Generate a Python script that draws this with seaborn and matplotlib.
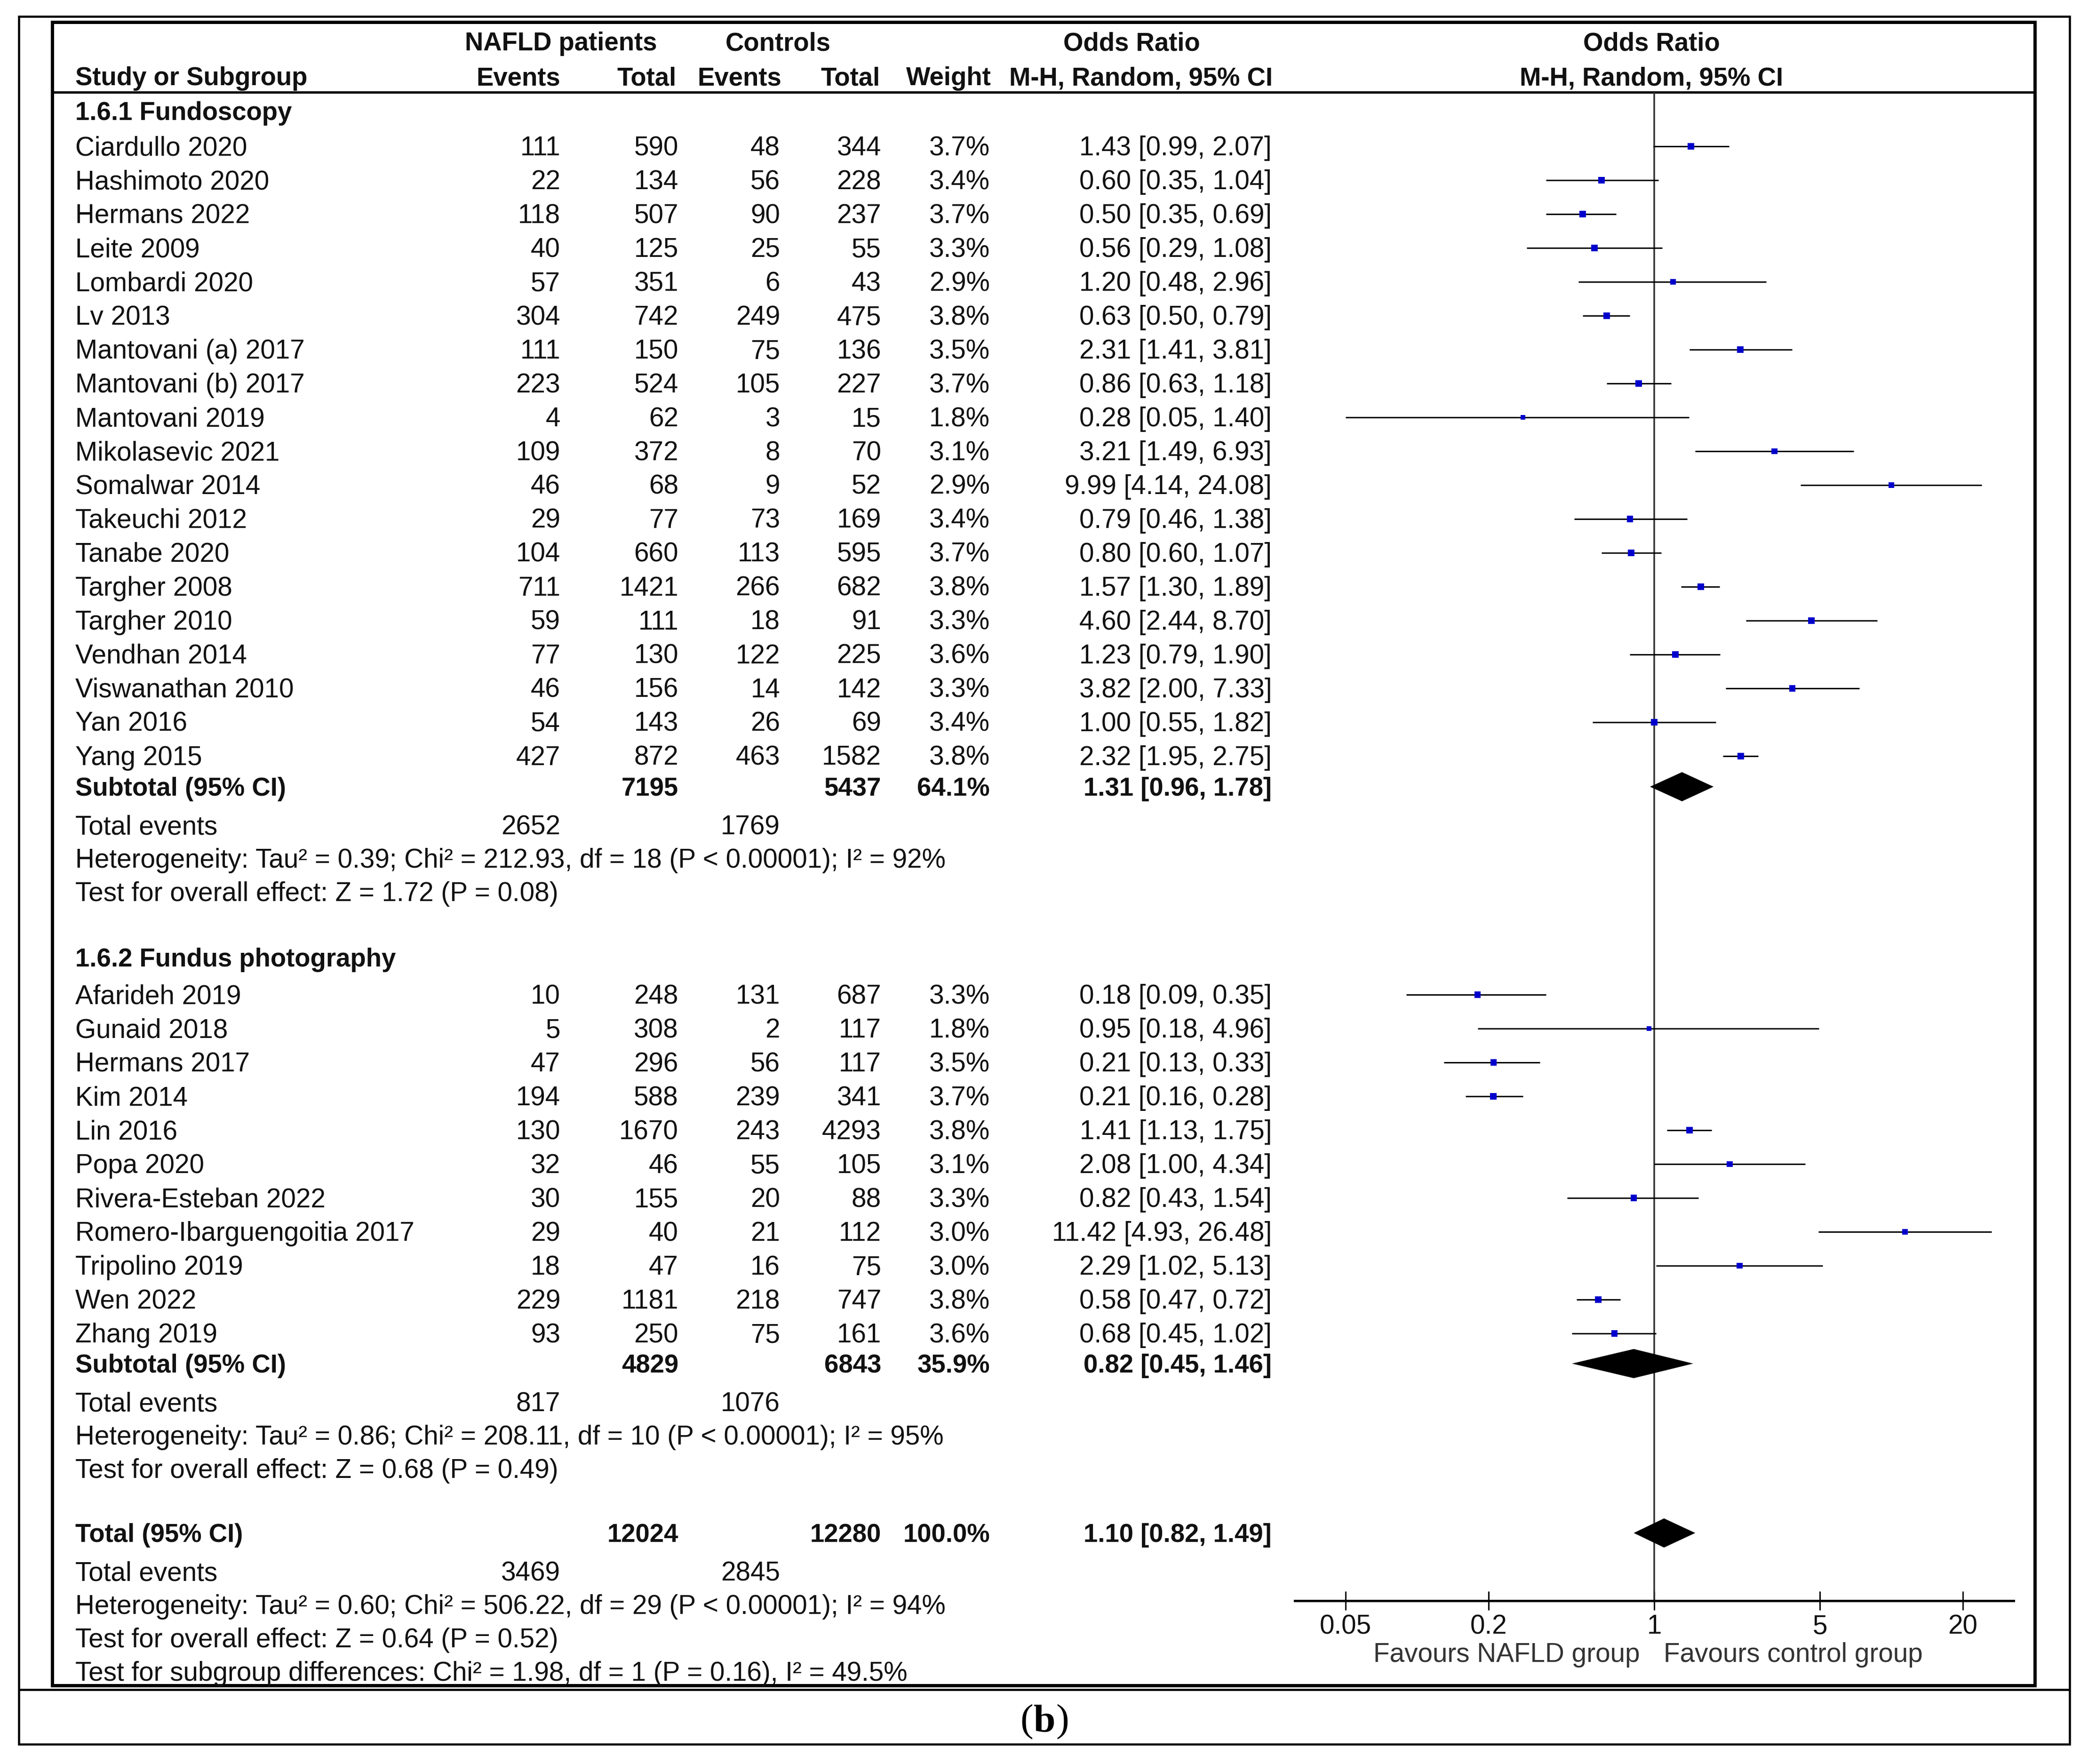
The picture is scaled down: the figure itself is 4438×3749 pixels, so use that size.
import numpy as np
import pandas as pd
import matplotlib.pyplot as plt
from matplotlib.patches import Rectangle
from matplotlib.ticker import NullLocator
import seaborn as sns

# 1.6.1 Fundoscopy
names1 = ["Ciardullo 2020", "Hashimoto 2020", "Hermans 2022", "Leite 2009", "Lombardi 2020",
          "Lv 2013", "Mantovani (a) 2017", "Mantovani (b) 2017", "Mantovani 2019",
          "Mikolasevic 2021", "Somalwar 2014", "Takeuchi 2012", "Tanabe 2020", "Targher 2008",
          "Targher 2010", "Vendhan 2014", "Viswanathan 2010", "Yan 2016", "Yang 2015"]
ev1 = [111, 22, 118, 40, 57, 304, 111, 223, 4, 109, 46, 29, 104, 711, 59, 77, 46, 54, 427]
tot1 = [590, 134, 507, 125, 351, 742, 150, 524, 62, 372, 68, 77, 660, 1421, 111, 130, 156, 143, 872]
cev1 = [48, 56, 90, 25, 6, 249, 75, 105, 3, 8, 9, 73, 113, 266, 18, 122, 14, 26, 463]
ctot1 = [344, 228, 237, 55, 43, 475, 136, 227, 15, 70, 52, 169, 595, 682, 91, 225, 142, 69, 1582]
w1 = [3.7, 3.4, 3.7, 3.3, 2.9, 3.8, 3.5, 3.7, 1.8, 3.1, 2.9, 3.4, 3.7, 3.8, 3.3, 3.6, 3.3, 3.4, 3.8]
or1 = [1.43, 0.60, 0.50, 0.56, 1.20, 0.63, 2.31, 0.86, 0.28, 3.21, 9.99, 0.79, 0.80, 1.57, 4.60, 1.23, 3.82, 1.00, 2.32]
lo1 = [0.99, 0.35, 0.35, 0.29, 0.48, 0.50, 1.41, 0.63, 0.05, 1.49, 4.14, 0.46, 0.60, 1.30, 2.44, 0.79, 2.00, 0.55, 1.95]
hi1 = [2.07, 1.04, 0.69, 1.08, 2.96, 0.79, 3.81, 1.18, 1.40, 6.93, 24.08, 1.38, 1.07, 1.89, 8.70, 1.90, 7.33, 1.82, 2.75]

# 1.6.2 Fundus photography
names2 = ["Afarideh 2019", "Gunaid 2018", "Hermans 2017", "Kim 2014", "Lin 2016", "Popa 2020",
          "Rivera-Esteban 2022", "Romero-Ibarguengoitia 2017", "Tripolino 2019", "Wen 2022", "Zhang 2019"]
ev2 = [10, 5, 47, 194, 130, 32, 30, 29, 18, 229, 93]
tot2 = [248, 308, 296, 588, 1670, 46, 155, 40, 47, 1181, 250]
cev2 = [131, 2, 56, 239, 243, 55, 20, 21, 16, 218, 75]
ctot2 = [687, 117, 117, 341, 4293, 105, 88, 112, 75, 747, 161]
w2 = [3.3, 1.8, 3.5, 3.7, 3.8, 3.1, 3.3, 3.0, 3.0, 3.8, 3.6]
or2 = [0.18, 0.95, 0.21, 0.21, 1.41, 2.08, 0.82, 11.42, 2.29, 0.58, 0.68]
lo2 = [0.09, 0.18, 0.13, 0.16, 1.13, 1.00, 0.43, 4.93, 1.02, 0.47, 0.45]
hi2 = [0.35, 4.96, 0.33, 0.28, 1.75, 4.34, 1.54, 26.48, 5.13, 0.72, 1.02]

# pooled results: total, control total, weight, OR, lower, upper, events, control events
sub1 = [7195, 5437, 64.1, 1.31, 0.96, 1.78, 2652, 1769]
sub2 = [4829, 6843, 35.9, 0.82, 0.45, 1.46, 817, 1076]
overall = [12024, 12280, 100.0, 1.10, 0.82, 1.49, 3469, 2845]
het1 = "Heterogeneity: Tau² = 0.39; Chi² = 212.93, df = 18 (P < 0.00001); I² = 92%"
z1 = "Test for overall effect: Z = 1.72 (P = 0.08)"
het2 = "Heterogeneity: Tau² = 0.86; Chi² = 208.11, df = 10 (P < 0.00001); I² = 95%"
z2 = "Test for overall effect: Z = 0.68 (P = 0.49)"
het_t = "Heterogeneity: Tau² = 0.60; Chi² = 506.22, df = 29 (P < 0.00001); I² = 94%"
z_t = "Test for overall effect: Z = 0.64 (P = 0.52)"
sg_t = "Test for subgroup differences: Chi² = 1.98, df = 1 (P = 0.16), I² = 49.5%"

tick_vals = [0.05, 0.2, 1, 5, 20]
tick_labels = ["0.05", "0.2", "1", "5", "20"]

sns.set_theme(style="white")
plt.rcParams['font.family'] = ['Liberation Sans', 'DejaVu Sans']

W, H = 4438, 3749
DPI = 300
PX = 72 / DPI
FS = 13.6      # regular text
FSB = 13.1     # bold text
INK = '#111111'

fig = plt.figure(figsize=(W / DPI, H / DPI), dpi=DPI)
ax = fig.add_axes([0, 0, 1, 1])
ax.set_xlim(0, W)
ax.set_ylim(H, 0)
ax.axis('off')


def put(x, y, s, ha='right', bold=False, color=INK):
    ax.text(x, y + 19, s, ha=ha, va='baseline', fontsize=FSB if bold else FS, color=color,
            fontweight='bold' if bold else 'normal')


# column anchors
X_NAME, X_EV1, X_TOT1, X_EV2, X_TOT2, X_W, X_OR = 160, 1191, 1442, 1658, 1873, 2104, 2703

# row layout
y_study1 = 311 + 72 * np.arange(len(names1))
y_sub1 = y_study1[-1] + 65
y_ev1 = y_sub1 + 82
y_het1 = y_ev1 + 71
y_z1 = y_het1 + 71
y_grp2 = y_z1 + 139
y_study2 = y_grp2 + 79 + 72 * np.arange(len(names2))
y_sub2 = y_study2[-1] + 64
y_ev2 = y_sub2 + 82
y_het2 = y_ev2 + 71
y_z2 = y_het2 + 71
y_tot = y_z2 + 136
y_evt = y_tot + 82
y_hett = y_evt + 71
y_zt = y_hett + 71
y_sg = y_zt + 71

# frames
ax.add_patch(Rectangle((40, 35), 4359, 3672, fill=False, lw=4.5 * PX, ec='black'))
ax.add_patch(Rectangle((111, 47), 4214, 3535, fill=False, lw=7 * PX, ec='black'))
ax.hlines(3591, 40, 4399, color='black', lw=4.5 * PX)
ax.hlines(196, 111, 4325, color='black', lw=5 * PX)

# header
put(1192, 88, "NAFLD patients", ha='center', bold=True)
put(1654, 88, "Controls", ha='center', bold=True)
put(2405, 88, "Odds Ratio", ha='center', bold=True)
put(3510, 88, "Odds Ratio", ha='center', bold=True)
put(X_NAME, 162, "Study or Subgroup", ha='left', bold=True)
put(X_EV1, 162, "Events", bold=True)
put(1438, 162, "Total", bold=True)
put(1661, 162, "Events", bold=True)
put(1871, 162, "Total", bold=True)
put(2107, 162, "Weight", bold=True)
put(2705, 162, "M-H, Random, 95% CI", bold=True)
put(3510, 162, "M-H, Random, 95% CI", ha='center', bold=True)


def study_rows(names, ev, tot, cev, ctot, w, o, lo, hi, ys):
    for i, y in enumerate(ys):
        put(X_NAME, y, names[i], ha='left')
        put(X_EV1, y, str(ev[i]))
        put(X_TOT1, y, str(tot[i]))
        put(X_EV2, y, str(cev[i]))
        put(X_TOT2, y, str(ctot[i]))
        put(X_W, y, f"{w[i]:.1f}%")
        put(X_OR, y, f"{o[i]:.2f} [{lo[i]:.2f}, {hi[i]:.2f}]")


def pooled_rows(label, res, y_s, y_e, texts):
    put(X_NAME, y_s, label, ha='left', bold=True)
    put(X_TOT1, y_s, str(res[0]), bold=True)
    put(X_TOT2, y_s, str(res[1]), bold=True)
    put(X_W, y_s, f"{res[2]:.1f}%", bold=True)
    put(X_OR, y_s, f"{res[3]:.2f} [{res[4]:.2f}, {res[5]:.2f}]", bold=True)
    put(X_NAME, y_e, "Total events", ha='left')
    put(X_EV1, y_e, str(res[6]))
    put(X_EV2, y_e, str(res[7]))
    for y, s in texts:
        put(X_NAME, y, s, ha='left')


put(X_NAME, 236, "1.6.1 Fundoscopy", ha='left', bold=True)
study_rows(names1, ev1, tot1, cev1, ctot1, w1, or1, lo1, hi1, y_study1)
pooled_rows("Subtotal (95% CI)", sub1, y_sub1, y_ev1, [(y_het1, het1), (y_z1, z1)])

put(X_NAME, y_grp2, "1.6.2 Fundus photography", ha='left', bold=True)
study_rows(names2, ev2, tot2, cev2, ctot2, w2, or2, lo2, hi2, y_study2)
pooled_rows("Subtotal (95% CI)", sub2, y_sub2, y_ev2, [(y_het2, het2), (y_z2, z2)])

pooled_rows("Total (95% CI)", overall, y_tot, y_evt,
            [(y_hett, het_t), (y_zt, z_t), (y_sg, sg_t)])

# caption
ax.text(2196, 3660, "(", ha='right', va='center', fontsize=20, family='Liberation Serif', color='black')
ax.text(2220, 3660, "b", ha='center', va='center', fontsize=20, family='Liberation Serif',
        fontweight='bold', color='black')
ax.text(2244, 3660, ")", ha='left', va='center', fontsize=20, family='Liberation Serif', color='black')

# forest plot
df = pd.DataFrame({
    "study": names1 + names2,
    "or": or1 + or2,
    "lo": lo1 + lo2,
    "hi": hi1 + hi2,
    "weight": w1 + w2,
    "y": np.concatenate([y_study1, y_study2]),
})

x0, x1 = 2752, 4280
AXIS_Y = 3402
fx = fig.add_axes([x0 / W, 0, (x1 - x0) / W, 1])
fx.patch.set_alpha(0)
fx.set_xscale('log')
fx.set_xlim(0.0305, 32.8)
fx.set_ylim(H, 0)

fx.vlines(1, 196, AXIS_Y, color='#333333', lw=3.5 * PX, zorder=1)
fx.hlines(df["y"], df["lo"], df["hi"], color='black', lw=3 * PX, zorder=2)
sns.scatterplot(data=df, x="or", y="y", size="weight", sizes=(5.5, 11.6), size_norm=(1.8, 3.8),
                marker='s', color='#0000CC', edgecolor='none', linewidth=0, legend=False,
                ax=fx, zorder=3)

for res, y in [(sub1, y_sub1), (sub2, y_sub2), (overall, y_tot)]:
    est, lo, hi = res[3], res[4], res[5]
    fx.fill([lo, est, hi, est], [y, y - 31, y, y + 31], color='black', lw=0, zorder=3)

for s in ['top', 'left', 'right']:
    fx.spines[s].set_visible(False)
fx.spines['bottom'].set_position(('data', AXIS_Y))
fx.spines['bottom'].set_linewidth(5 * PX)
fx.spines['bottom'].set_color('black')
fx.set_xticks(tick_vals)
fx.set_xticklabels(tick_labels)
fx.xaxis.set_minor_locator(NullLocator())
fx.tick_params(axis='x', which='major', bottom=True, direction='inout', length=40 * PX,
               width=3 * PX, color='black', pad=2, labelsize=FS, labelcolor=INK)
fx.set_yticks([])
fx.set_xlabel("")
fx.set_ylabel("")

fx.text(0.872, 3513 + 19, "Favours NAFLD group", ha='right', va='baseline', fontsize=FS, color='#333333')
fx.text(1.095, 3513 + 19, "Favours control group", ha='left', va='baseline', fontsize=FS, color='#333333')

fig.savefig("out.png", dpi=DPI, facecolor='white')
